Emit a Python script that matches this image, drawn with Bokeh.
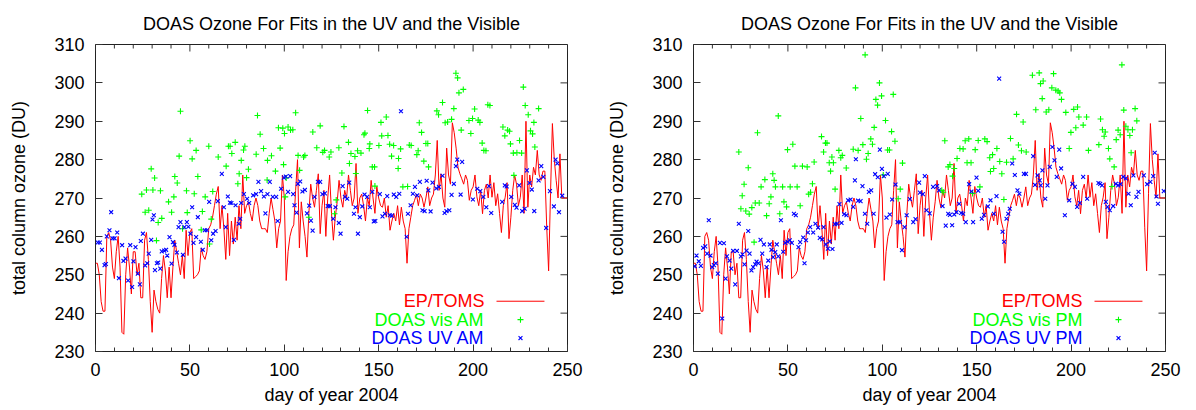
from bokeh.plotting import figure
from bokeh.layouts import row
from bokeh.models import Range1d, FixedTicker, Label
from bokeh.embed import file_html
from bokeh.resources import INLINE

# ---------------- data ----------------
toms_o3 = [
    253, 253, 250, 243, 240.5, 240.5, 260, 261, 259, 252,
    249, 256, 260, 252, 235, 234.5, 250, 257, 252, 245,
    256, 256, 250, 253, 244, 244, 259, 261, 254, 243,
    235, 246, 243, 241, 240, 249, 255, 251, 244, 252,
    244, 252, 259, 256, 253, 250, 255, 249, 261.6, 255,
    261, 262, 249, 249.5, 250, 251, 257, 255, 254, 256,
    262, 263, 265, 268, 271, 273, 262, 268, 262, 254,
    266, 255, 264, 258, 265, 259, 268, 262, 276, 266,
    268, 269, 266, 264, 268, 270, 268, 264, 262, 262,
    262, 261, 266, 270, 267, 264, 257, 262, 264, 276,
    270, 248.5, 256, 260, 262, 263, 272, 280, 257, 269,
    264, 260, 254.6, 266, 273.6, 270, 267.6, 272, 276.3, 260.7,
    268, 272, 260, 270, 276, 266, 259, 265, 269, 274.6,
    270, 267.6, 272, 270, 276, 272, 268, 270, 279, 266,
    270, 271, 268, 264, 270, 268, 274.6, 270, 266, 273,
    270, 268, 267.6, 270, 265, 268, 261.6, 264, 266, 264,
    268, 263, 267.6, 264, 262, 253, 262, 265, 268, 269.4,
    271, 268, 271, 270, 267.6, 270, 272.9, 268, 270, 271,
    276, 285, 272, 276.3, 270, 267.6, 283, 276, 273.6, 289.6,
    287, 283, 278, 276.3, 275, 273.6, 276, 274.6, 269.4, 272,
    272.9, 276, 270.3, 268, 272, 265.9, 272, 273.6, 270, 276,
    270.2, 274, 268, 271.1, 266, 261, 268, 270.2, 274, 259.4,
    265, 272, 276, 273.6, 268, 270.2, 276, 266, 290, 267.6,
    276, 272.9, 278, 276, 282.4, 276, 274.6, 277, 277, 262.4,
    251, 271.1, 289.4, 280, 274.6, 270, 281.5, 270, 270, 270, 270,
]
toms_day = list(range(len(toms_o3)))

vis_am = [
    (24.5, 271.0), (26.3, 266.3), (27.0, 272.1), (28.2, 266.8), (29.5, 277.6), (30.4, 272.1),
    (31.3, 275.2), (32.3, 258.9), (33.2, 263.6), (34.4, 271.9), (35.1, 264.7), (38.7, 269.0),
    (40.3, 266.3), (41.5, 270.3), (42.0, 275.6), (43.3, 273.9), (44.3, 280.9), (45.0, 292.6),
    (46.1, 262.0), (48.2, 271.9), (48.6, 266.2), (50.1, 284.9), (51.2, 280.2), (52.3, 271.1),
    (53.3, 282.4), (54.2, 275.6), (56.0, 261.7), (56.6, 266.5), (58.1, 270.3), (60.0, 283.5),
    (60.4, 258.0), (61.3, 264.5), (62.1, 271.7), (65.0, 280.7), (69.2, 278.3), (70.4, 283.5),
    (71.3, 283.5), (72.2, 281.6), (74.0, 284.5), (75.4, 273.7), (76.1, 276.3), (77.2, 279.8),
    (78.4, 282.5), (79.1, 283.5), (80.0, 275.3), (81.0, 277.5), (85.1, 281.4), (85.8, 291.5),
    (87.2, 286.6), (89.0, 282.9), (90.9, 274.7), (91.1, 279.8), (93.2, 281.0), (95.3, 277.0),
    (96.9, 288.3), (97.8, 283.0), (99.2, 288.2), (99.6, 278.7), (100.1, 286.8), (100.5, 270.3),
    (101.0, 275.2), (102.0, 288.5), (103.3, 287.7), (104.5, 287.8), (106.0, 292.2), (107.3, 281.1),
    (108.1, 277.2), (110.2, 280.7), (110.9, 281.1), (113.0, 265.0), (115.1, 287.2), (117.2, 283.1),
    (119.0, 288.8), (120.4, 281.9), (121.3, 282.4), (123.8, 280.7), (124.7, 282.0), (126.6, 265.9),
    (127.5, 269.5), (128.9, 283.1), (130.5, 276.5), (131.6, 288.6), (134.0, 284.5), (134.5, 279.0),
    (135.3, 281.6), (137.4, 280.8), (137.9, 276.4), (138.8, 282.3), (140.6, 281.7), (142.2, 286.5),
    (142.7, 286.9), (144.1, 292.8), (145.0, 282.9), (145.3, 284.1), (146.6, 278.1), (147.8, 278.1),
    (148.0, 273.1), (150.1, 283.7), (151.2, 289.7), (151.6, 286.2), (154.0, 291.1), (154.9, 286.3),
    (155.8, 284.0), (156.8, 280.9), (157.9, 283.7), (160.3, 277.7), (160.5, 280.3), (161.6, 282.8),
    (162.8, 272.9), (165.3, 273.0), (166.2, 283.8), (167.2, 283.7), (170.2, 281.3), (170.9, 282.3),
    (171.5, 289.6), (172.7, 287.1), (173.9, 279.6), (175.0, 284.2), (176.0, 284.2), (176.4, 278.1),
    (180.8, 292.7), (181.7, 291.7), (183.8, 294.9), (185.2, 289.6), (186.5, 289.8), (188.6, 290.5),
    (189.8, 293.3), (190.9, 302.5), (191.8, 301.3), (192.5, 297.4), (193.7, 287.7), (194.8, 298.3),
    (197.8, 290.2), (198.8, 286.8), (199.7, 290.7), (200.8, 293.2), (202.7, 290.3), (203.6, 289.7),
    (204.8, 284.3), (205.7, 282.4), (206.8, 282.3), (207.8, 294.3), (208.9, 294.1), (215.8, 288.5),
    (216.8, 286.2), (218.3, 287.7), (219.3, 287.4), (219.8, 284.1), (221.3, 281.7), (221.6, 275.9),
    (223.2, 281.8), (224.6, 285.0), (225.7, 281.7), (226.6, 298.9), (227.6, 294.1), (229.2, 291.7),
    (230.4, 287.5), (231.5, 286.7), (232.2, 289.7), (232.7, 283.3), (234.7, 293.3),
]

uv_am = [
    (1.2, 258.4), (2.3, 258.4), (3.4, 256.5), (4.8, 252.5), (5.5, 252.8), (6.0, 260.0),
    (7.4, 261.6), (8.3, 266.3), (9.0, 259.5), (10.1, 259.5), (11.5, 261.0), (12.4, 249.1),
    (14.1, 257.7), (14.8, 253.6), (15.9, 254.2), (17.3, 248.5), (18.4, 257.7), (19.4, 246.8),
    (20.1, 253.5), (21.2, 257.2), (22.4, 250.3), (23.5, 247.5), (24.0, 258.8), (25.1, 260.7),
    (26.3, 252.4), (27.4, 253.0), (28.2, 255.5), (29.5, 259.1), (30.2, 264.4), (30.9, 265.5),
    (31.5, 251.2), (32.5, 253.0), (33.2, 253.2), (34.3, 251.6), (35.1, 256.1), (36.4, 256.3),
    (37.4, 256.5), (38.0, 255.0), (39.2, 259.8), (40.3, 252.9), (41.0, 258.5), (41.8, 257.8),
    (43.1, 255.8), (44.0, 262.4), (45.0, 263.7), (46.3, 255.2), (47.1, 262.4), (48.4, 263.7),
    (49.2, 262.5), (50.3, 260.7), (51.2, 267.6), (51.9, 258.3), (53.3, 259.8), (54.2, 265.0),
    (55.8, 258.6), (56.8, 256.5), (57.9, 261.6), (59.0, 261.6), (60.2, 269.0), (61.3, 259.0),
    (62.3, 260.7), (63.6, 261.4), (64.8, 269.2), (66.9, 276.3), (68.0, 267.6), (69.0, 262.4),
    (70.1, 270.4), (71.2, 268.8), (72.0, 268.7), (73.3, 259.1), (74.2, 268.1), (75.9, 263.3),
    (76.6, 264.6), (77.2, 268.7), (78.6, 271.0), (80.3, 269.8), (81.4, 268.7), (83.5, 270.7),
    (85.1, 271.0), (86.3, 274.2), (87.7, 271.8), (89.2, 270.4), (90.0, 266.0), (91.1, 271.0),
    (92.3, 274.2), (93.9, 270.3), (95.7, 270.3), (96.5, 264.0), (98.3, 272.4), (99.8, 275.3),
    (100.8, 275.6), (102.0, 271.6), (103.1, 275.7), (104.7, 271.0), (105.4, 268.1), (106.5, 266.2),
    (107.2, 273.7), (108.4, 274.3), (109.6, 271.7), (110.9, 272.1), (112.0, 266.0), (113.2, 268.0),
    (114.1, 264.1), (115.0, 261.5), (116.0, 270.3), (117.8, 274.2), (119.0, 274.2), (120.2, 271.0),
    (121.5, 271.2), (123.0, 267.9), (124.1, 267.9), (125.9, 264.6), (127.1, 267.6), (128.9, 263.5),
    (129.8, 260.7), (130.9, 273.1), (132.1, 270.3), (133.3, 269.8), (134.4, 274.0), (136.9, 265.9),
    (137.7, 267.6), (139.0, 260.7), (140.0, 265.0), (141.3, 267.8), (142.5, 270.9), (143.9, 270.3),
    (145.3, 267.6), (146.6, 271.6), (147.4, 263.9), (148.2, 264.0), (150.6, 271.0), (152.0, 265.2),
    (153.3, 265.9), (154.5, 270.5), (155.9, 265.5), (157.0, 265.4), (158.0, 270.9), (159.3, 270.3),
    (160.9, 271.1), (161.8, 292.6), (164.8, 259.9), (165.5, 265.9), (166.9, 268.1), (168.1, 271.1),
    (169.2, 272.9), (170.4, 270.7), (171.8, 274.2), (173.2, 266.8), (174.3, 266.6), (175.4, 274.5),
    (176.3, 272.0), (177.5, 266.5), (178.5, 274.0), (180.5, 272.5), (181.9, 272.9), (183.8, 275.8),
    (184.9, 266.1), (185.9, 266.6), (187.4, 266.8), (188.6, 270.8), (189.8, 273.7), (190.9, 278.3),
    (191.6, 280.0), (193.4, 270.9), (194.2, 279.4), (199.9, 269.6), (202.2, 272.4), (203.8, 271.8),
    (205.4, 270.3), (207.0, 267.6), (208.4, 273.1), (209.6, 266.1), (215.4, 269.0), (216.8, 273.3),
    (217.8, 273.0), (220.2, 270.3), (222.1, 268.2), (223.0, 267.5), (224.4, 273.3), (226.0, 266.6),
    (227.3, 267.2), (228.5, 277.2), (229.9, 273.9), (231.1, 272.2), (232.4, 266.6), (234.7, 274.6),
    (236.1, 278.3), (237.2, 275.5), (238.7, 262.2), (240.7, 271.8), (242.8, 267.8), (243.7, 280.0),
    (244.6, 279.0), (245.5, 266.3), (247.2, 270.6),
]

vis_pm = [
    (24.0, 282.0), (25.1, 267.2), (25.8, 270.6), (26.8, 273.6), (27.7, 266.6), (29.0, 277.9),
    (29.5, 265.8), (30.9, 267.5), (32.1, 258.5), (32.7, 268.7), (33.9, 287.0), (34.8, 268.7),
    (35.8, 272.9), (37.8, 274.8), (38.7, 265.4), (40.1, 268.5), (41.0, 270.3), (42.0, 276.3),
    (42.7, 274.6), (43.4, 272.9), (44.9, 291.4), (45.7, 265.9), (47.2, 272.9), (47.9, 269.0),
    (49.3, 267.7), (49.8, 282.6), (51.2, 272.9), (52.6, 284.0), (53.7, 278.3), (54.9, 272.9),
    (56.5, 268.0), (57.7, 278.3), (60.2, 278.1), (61.0, 271.0), (62.0, 271.5), (63.0, 273.7),
    (63.9, 279.4), (67.8, 286.0), (68.9, 282.0), (69.9, 284.3), (70.7, 284.3), (71.9, 279.2),
    (72.6, 277.0), (73.3, 280.7), (74.1, 279.2), (75.0, 272.3), (77.0, 282.4), (78.0, 280.5),
    (78.8, 281.1), (80.9, 277.8), (84.6, 282.7), (85.8, 298.7), (87.2, 282.4), (88.6, 290.7),
    (89.7, 283.9), (90.9, 307.3), (91.6, 280.1), (92.5, 281.6), (93.9, 285.4), (94.8, 284.0),
    (95.7, 288.4), (96.6, 295.7), (97.5, 294.2), (98.5, 300.0), (99.6, 296.6), (100.5, 276.0),
    (101.7, 290.2), (102.8, 282.5), (103.8, 282.5), (104.9, 287.3), (105.8, 297.0), (106.7, 284.8),
    (108.4, 269.8), (109.5, 272.3), (110.7, 279.1), (131.5, 272.0), (132.3, 271.5),
    (133.1, 284.9), (134.9, 278.1), (135.8, 278.7), (137.2, 275.7), (138.1, 277.7), (139.6, 280.3),
    (141.1, 282.9), (142.8, 282.8), (143.9, 284.9), (144.9, 279.2), (145.8, 285.4), (147.0, 279.2),
    (147.8, 271.2), (149.2, 282.6), (150.8, 285.0), (151.7, 272.9), (154.3, 285.4), (155.5, 284.7),
    (156.9, 280.5), (157.3, 276.9), (158.4, 281.3), (159.0, 277.7), (160.7, 282.9), (162.2, 279.5),
    (163.3, 276.3), (164.4, 269.6), (165.8, 279.3), (167.9, 285.5), (169.3, 280.2), (171.1, 291.8),
    (172.1, 283.8), (173.7, 282.3), (174.6, 289.8), (176.2, 282.0), (179.5, 302.0), (181.3, 293.0),
    (183.1, 302.6), (183.8, 299.8), (184.7, 295.9), (185.2, 300.5), (186.8, 292.4), (188.2, 293.0),
    (189.8, 298.7), (190.7, 302.4), (191.9, 298.1), (193.1, 297.9), (194.0, 297.4), (194.9, 295.7),
    (197.2, 292.3), (199.0, 282.9), (199.9, 287.1), (201.4, 293.1), (202.5, 288.3), (203.4, 293.7),
    (204.1, 291.1), (206.4, 289.0), (208.2, 291.1), (209.2, 282.4), (214.7, 283.9), (215.6, 290.6),
    (216.6, 287.8), (217.5, 286.1), (218.1, 287.2), (219.8, 282.9), (220.5, 280.2), (221.7, 273.0),
    (222.8, 278.1), (223.9, 285.2), (224.9, 287.7), (226.0, 286.5), (226.9, 304.7), (227.9, 292.9),
    (229.0, 288.7), (230.1, 287.8), (231.1, 286.3), (231.8, 281.8), (232.5, 287.8), (233.9, 293.3),
    (234.8, 290.1),
]

uv_pm = [
    (0.7, 252.2), (1.6, 255.0), (2.8, 253.5), (3.9, 252.3), (5.1, 257.0), (6.2, 257.4),
    (7.2, 255.5), (8.1, 264.2), (9.0, 255.0), (9.9, 252.0), (10.8, 252.5), (11.8, 253.0),
    (12.9, 250.3), (14.0, 258.3), (15.2, 238.6), (16.1, 258.2), (17.0, 249.0), (17.7, 254.8),
    (19.1, 253.7), (20.0, 251.6), (21.0, 256.2), (22.1, 247.5), (23.0, 256.2), (24.0, 263.3),
    (25.1, 254.8), (26.0, 255.3), (27.0, 252.7), (28.1, 256.3), (29.0, 261.4), (29.7, 255.5),
    (30.7, 251.1), (31.6, 252.0), (32.7, 252.7), (33.4, 253.4), (34.4, 253.0), (35.5, 259.1),
    (36.4, 255.5), (37.3, 257.9), (38.7, 252.0), (39.6, 253.7), (40.4, 257.9), (41.3, 256.5),
    (42.2, 254.6), (43.3, 255.9), (44.1, 257.9), (44.9, 254.8), (46.3, 264.2), (47.5, 256.0),
    (48.6, 258.3), (49.8, 258.6), (51.0, 259.0), (52.1, 258.3), (53.2, 265.9), (54.2, 265.5),
    (55.6, 257.2), (56.5, 258.5), (58.1, 259.7), (58.8, 253.0), (59.6, 259.0), (60.6, 261.0),
    (61.8, 262.4), (63.4, 261.0), (64.6, 263.3), (66.0, 262.3), (66.9, 259.6), (68.2, 259.2),
    (68.9, 262.4), (70.1, 257.9), (71.2, 256.8), (72.2, 258.7), (73.6, 256.7), (74.9, 263.2),
    (76.0, 263.3), (77.3, 268.4), (78.4, 263.5), (79.8, 265.8), (81.0, 265.5), (81.9, 269.4),
    (83.2, 269.6), (84.6, 267.7), (85.5, 274.6), (86.0, 280.1), (87.2, 269.3), (88.5, 269.2),
    (89.5, 273.1), (90.8, 265.9), (92.0, 263.3), (92.9, 271.6), (94.1, 272.0), (95.4, 265.9),
    (96.2, 276.2), (97.6, 275.4), (98.7, 282.6), (99.8, 277.6), (100.8, 275.7), (102.2, 264.9),
    (102.9, 276.3), (104.0, 265.7), (105.2, 269.6), (107.0, 273.5), (108.1, 263.7), (109.3, 263.7),
    (110.4, 256.4), (111.8, 262.4), (112.9, 265.5), (114.6, 269.7), (116.4, 263.7), (117.6, 264.5),
    (119.5, 274.0), (119.9, 271.4), (121.5, 271.0), (122.5, 275.7), (123.4, 266.8), (125.1, 266.0),
    (126.9, 272.9), (129.0, 273.1), (130.0, 272.0), (131.9, 267.9), (133.6, 262.8), (134.9, 265.9),
    (135.8, 265.6), (137.0, 262.9), (138.1, 265.7), (139.3, 266.3), (140.7, 268.5), (141.8, 266.1),
    (142.8, 265.9), (144.2, 263.7), (146.0, 273.6), (147.2, 271.7), (148.1, 263.7), (149.9, 275.3),
    (150.8, 271.9), (152.7, 264.6), (153.9, 265.6), (155.9, 267.8), (157.3, 269.4), (159.1, 265.9),
    (160.5, 270.5), (161.9, 301.1), (163.7, 261.2), (164.5, 258.6), (165.8, 264.6), (166.7, 265.9),
    (167.5, 267.2), (168.8, 279.0), (170.2, 276.0), (171.6, 272.0), (172.6, 271.1), (175.0, 276.3),
    (176.1, 276.3), (179.9, 280.9), (180.9, 273.4), (182.2, 275.9), (183.4, 274.6), (183.9, 273.3),
    (184.8, 277.2), (186.3, 269.8), (187.5, 273.3), (188.7, 278.1), (190.1, 283.3), (191.2, 279.8),
    (192.4, 275.5), (193.7, 282.6), (194.7, 277.7), (196.7, 265.5), (199.0, 269.4), (200.7, 273.7),
    (202.0, 272.9), (203.2, 267.7), (204.6, 268.7), (206.4, 275.5), (208.5, 269.8), (214.5, 273.9),
    (215.4, 273.7), (216.4, 273.3), (218.4, 269.0), (219.3, 267.7), (220.5, 266.8), (222.3, 267.9),
    (223.7, 273.7), (224.9, 273.3), (226.2, 273.6), (227.6, 275.5), (229.0, 275.1), (230.4, 271.1),
    (231.6, 268.1), (233.0, 275.9), (234.6, 270.3), (235.7, 271.6), (238.5, 275.9), (240.3, 273.6),
    (242.0, 274.2), (243.5, 275.7), (244.3, 281.8), (245.2, 270.4), (246.0, 268.5), (249.1, 271.8),
]

x_major = [0, 50, 100, 150, 200, 250]
x_minor = list(range(0, 251, 10))
y_major = [230, 240, 250, 260, 270, 280, 290, 300, 310]

TITLE = "DOAS Ozone For Fits in the UV and the Visible"
FONT = "Liberation Sans"
FS = "18px"
RED, GREEN, BLUE = "#ff0000", "#00ff00", "#0000ff"
TICK_COLOR = "#333333"

W, H = 598, 410
BL, BR, BT, BB = 95, 31, 44, 59
X0, X1, Y0, Y1 = 0, 250, 230, 310
MAJ_LEN, MIN_LEN = 7, 4  # pixels


def style_axis(ax):
    ax.axis_line_color = None
    ax.major_tick_in = MAJ_LEN
    ax.major_tick_out = 0
    ax.minor_tick_in = MIN_LEN
    ax.minor_tick_out = 0
    ax.major_tick_line_color = TICK_COLOR
    ax.minor_tick_line_color = TICK_COLOR
    ax.major_label_text_font = FONT
    ax.major_label_text_font_size = FS
    ax.major_label_text_color = "black"
    ax.major_label_standoff = 11
    ax.axis_label_text_font = FONT
    ax.axis_label_text_font_size = FS
    ax.axis_label_text_font_style = "normal"
    ax.axis_label_text_color = "black"


def make_panel(vis, uv, vis_name, uv_name):
    p = figure(width=W, height=H, x_range=Range1d(X0, X1), y_range=Range1d(Y0, Y1),
               output_backend="svg", toolbar_location=None,
               min_border_left=BL, min_border_right=BR, min_border_top=BT, min_border_bottom=BB)
    p.title.text = TITLE
    p.title.align = "center"
    p.title.text_font = FONT
    p.title.text_font_size = FS
    p.title.text_font_style = "normal"
    p.title.text_color = "black"
    p.title.standoff = 22
    p.xgrid.visible = False
    p.ygrid.visible = False
    p.outline_line_color = "#222222"
    p.outline_line_width = 1

    p.xaxis.ticker = FixedTicker(ticks=x_major, minor_ticks=x_minor)
    p.yaxis.ticker = FixedTicker(ticks=y_major, minor_ticks=[])
    style_axis(p.xaxis[0])
    style_axis(p.yaxis[0])
    p.xaxis.axis_label = "day of year 2004"
    p.yaxis.axis_label = "total column ozone (DU)"
    p.xaxis.axis_label_standoff = 6
    p.yaxis.axis_label_standoff = 22

    # mirrored ticks on the top and right borders (gnuplot style)
    px_per_x = (W - BL - BR) / (X1 - X0)
    px_per_y = (H - BT - BB) / (Y1 - Y0)
    inner_minor = [t for t in x_minor if t not in x_major]
    p.segment(x0=inner_minor, y0=[Y1] * len(inner_minor), x1=inner_minor,
              y1=[Y1 - MIN_LEN / px_per_y] * len(inner_minor), line_color=TICK_COLOR, line_width=1)
    p.segment(x0=x_major, y0=[Y1] * len(x_major), x1=x_major,
              y1=[Y1 - MAJ_LEN / px_per_y] * len(x_major), line_color=TICK_COLOR, line_width=1)
    p.segment(x0=[X1] * len(y_major), y0=y_major, x1=[X1 - MAJ_LEN / px_per_x] * len(y_major),
              y1=y_major, line_color=TICK_COLOR, line_width=1)

    p.line(toms_day, toms_o3, line_color=RED, line_width=1)
    p.scatter([d for d, v in vis], [v for d, v in vis], marker="cross", size=6,
              line_color=GREEN, line_width=1.1)
    p.scatter([d for d, v in uv], [v for d, v in uv], marker="x", size=5.5,
              line_color=BLUE, line_width=1.1)

    # gnuplot-style key: right-justified labels, sample to the right
    key_text_x = 206.0
    key_sample = (212.4, 237.8)
    key_mark_x = 225.1
    key_rows = [243.1, 238.3, 233.5]
    names = ["EP/TOMS", vis_name, uv_name]
    colors = [RED, GREEN, BLUE]
    for name, col, yk in zip(names, colors, key_rows):
        p.add_layout(Label(x=key_text_x, y=yk, text=name, text_align="right",
                           text_baseline="middle", text_color=col, text_font=FONT,
                           text_font_size=FS))
    p.line(list(key_sample), [key_rows[0], key_rows[0]], line_color=RED, line_width=1)
    p.scatter([key_mark_x], [key_rows[1]], marker="cross", size=6, line_color=GREEN, line_width=1.1)
    p.scatter([key_mark_x], [key_rows[2]], marker="x", size=5.5, line_color=BLUE, line_width=1.1)
    return p


p1 = make_panel(vis_am, uv_am, "DOAS vis AM", "DOAS UV AM")
p2 = make_panel(vis_pm, uv_pm, "DOAS vis PM", "DOAS UV PM")
layout = row(p1, p2)

open("out.html", "w").write(file_html(layout, INLINE))
